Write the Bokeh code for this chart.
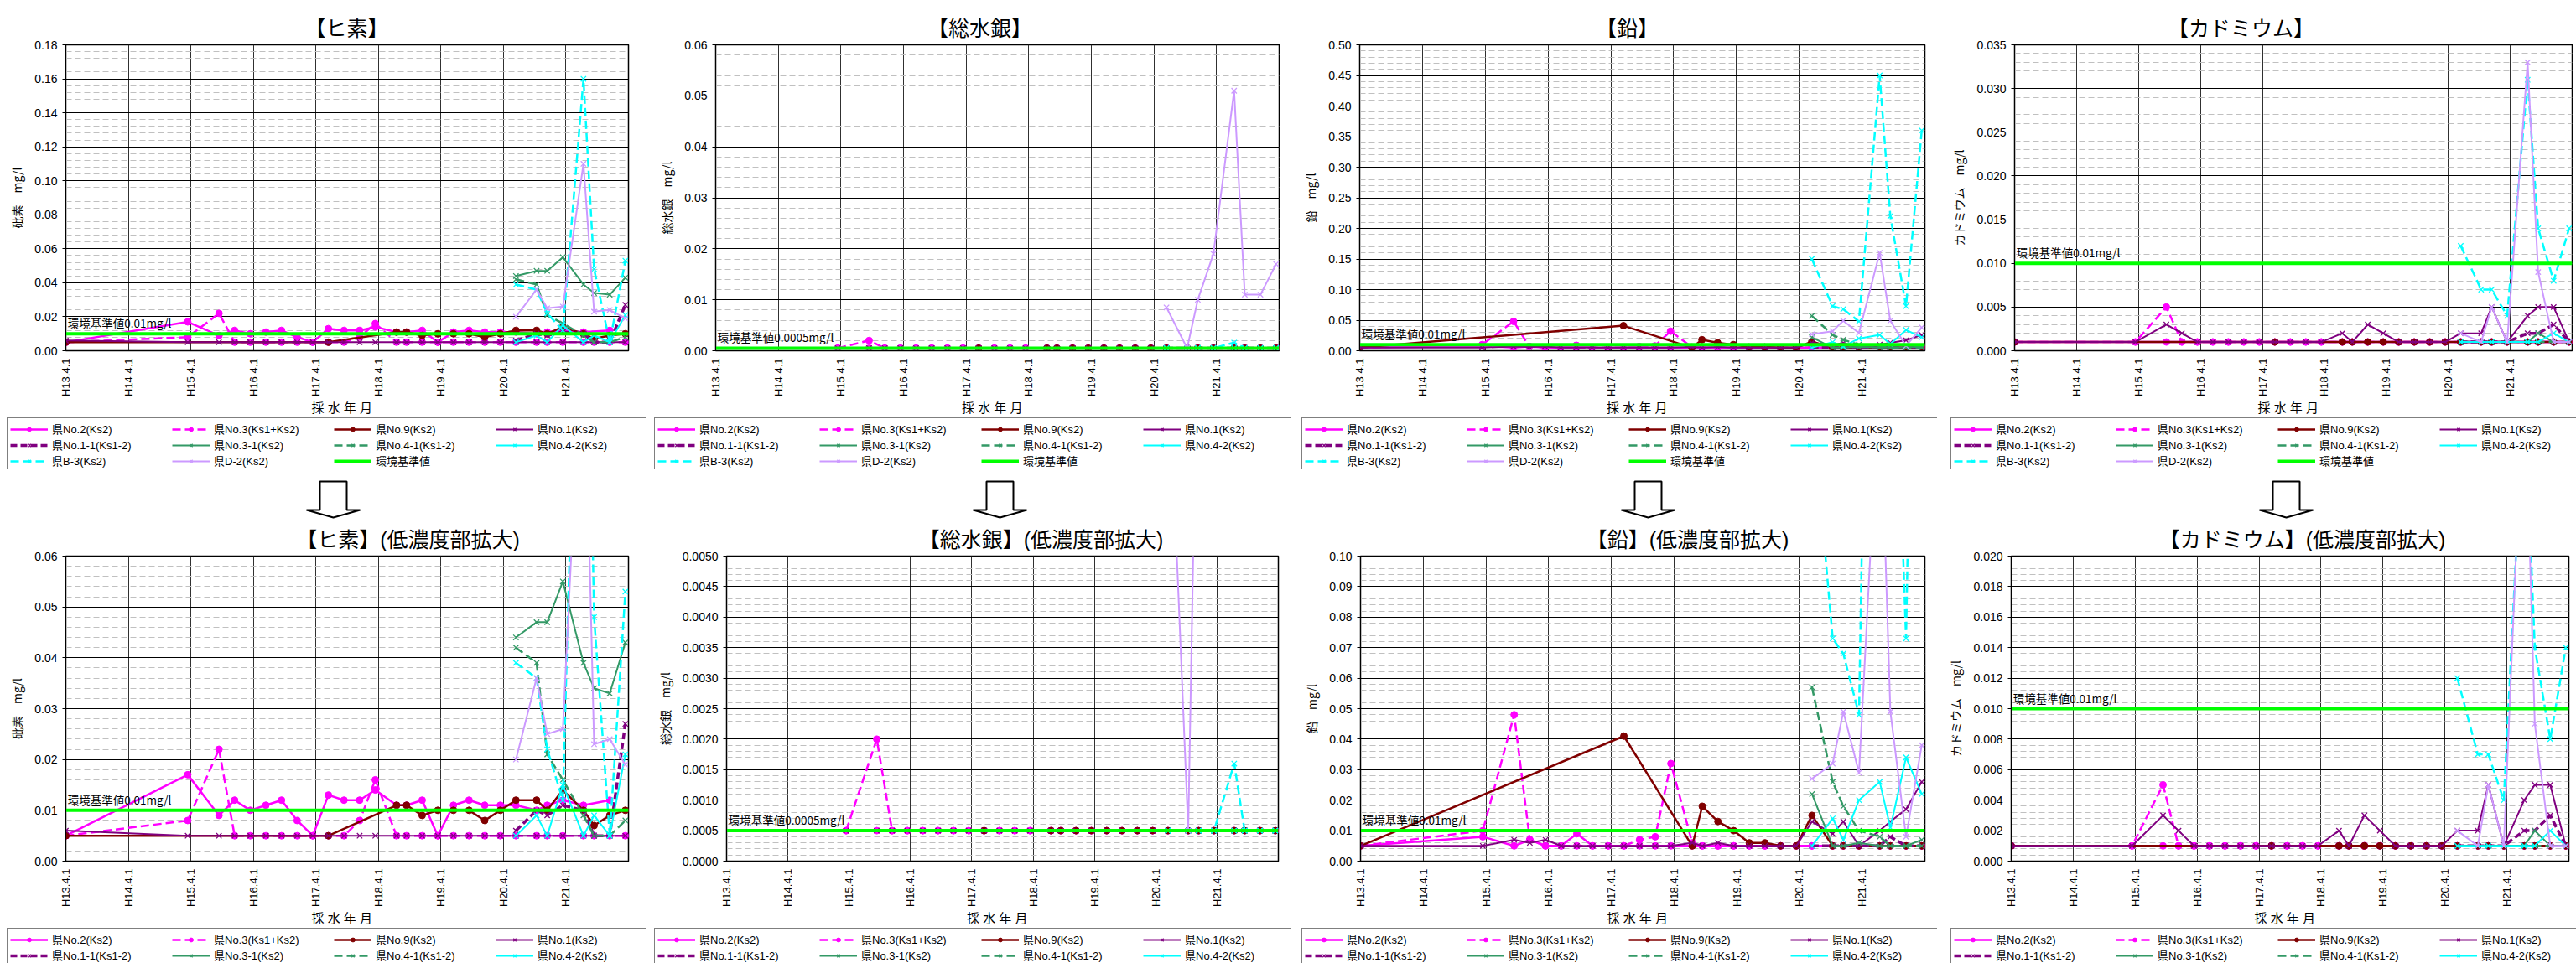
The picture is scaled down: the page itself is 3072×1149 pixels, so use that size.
import math
from bokeh.plotting import figure
from bokeh.models import (Range1d, SingleIntervalTicker, FixedTicker, PrintfTickFormatter,
                          Legend, LegendItem, Label)
from bokeh.layouts import row, column
from bokeh.embed import file_html
from bokeh.resources import INLINE

N = None

# ---------------- data ----------------
# sampling dates as fractional Heisei fiscal year (13.0 = H13.4.1)
T_ALL = [13.00, 14.95, 15.45, 15.70, 15.95, 16.20, 16.45, 16.70, 16.95, 17.20,
         17.45, 17.70, 17.95, 18.29, 18.45, 18.70, 18.95, 19.20, 19.45, 19.70,
         19.95, 20.20, 20.53, 20.70, 20.95, 21.28, 21.45, 21.70, 21.95]
T_NEW = [20.20, 20.53, 20.70, 20.95, 21.28, 21.45, 21.70, 21.95]
X_TICKS = [13, 14, 15, 16, 17, 18, 19, 20, 21]
X_TICK_LABELS = ["H13.4.1", "H14.4.1", "H15.4.1", "H16.4.1", "H17.4.1",
                 "H18.4.1", "H19.4.1", "H20.4.1", "H21.4.1"]
X_START, X_END = 13.0, 22.0
STD_X = [13.0, 22.0]

SERIES_NAMES = ["県No.2(Ks2)", "県No.3(Ks1+Ks2)", "県No.9(Ks2)", "県No.1(Ks2)",
                "県No.1-1(Ks1-2)", "県No.3-1(Ks2)", "県No.4-1(Ks1-2)", "県No.4-2(Ks2)",
                "県B-3(Ks2)", "県D-2(Ks2)"]
STD_NAME = "環境基準値"

# --- arsenic
AS_NO2 = [0.005, 0.017, 0.009, 0.012, 0.010, 0.011, 0.012, 0.008, 0.005, 0.013,
          0.012, 0.012, 0.014, 0.011, 0.011, 0.012, 0.005, 0.011, 0.012, 0.011,
          0.011, 0.011, 0.010, 0.011, 0.012, 0.011, N, 0.012, N]
AS_NO3 = [0.005, 0.008, 0.022, 0.005, 0.005, 0.005, 0.005, 0.005, 0.005, 0.005,
          0.005, 0.008, 0.016, 0.005, 0.005, 0.005, 0.005, 0.005, 0.005, 0.005,
          0.005, 0.005, 0.005, 0.005, 0.005, 0.005, 0.005, 0.005, 0.005]
AS_NO9 = [0.005, N, N, N, N, N, N, N, N, 0.005,
          N, N, N, 0.011, 0.011, 0.009, 0.010, 0.010, 0.010, 0.008,
          0.010, 0.012, 0.012, 0.010, 0.014, 0.010, 0.007, 0.009, 0.010]
AS_NO1 = [0.006, 0.005, 0.005, 0.005, 0.005, 0.005, 0.005, 0.005, 0.005, 0.005,
          0.005, 0.005, 0.005, 0.005, 0.005, 0.005, 0.005, 0.005, 0.005, 0.005,
          0.005, 0.005, 0.005, 0.005, 0.005, 0.005, 0.005, 0.005, 0.005]
AS_NO1_1 = [0.006, 0.010, 0.009, 0.011, 0.010, 0.005, 0.005, 0.027]
AS_NO3_1 = [0.044, 0.047, 0.047, 0.055, 0.039, 0.034, 0.033, 0.043]
AS_NO4_1 = [0.042, 0.039, 0.021, 0.016, 0.009, 0.005, 0.005, 0.008]
AS_NO4_2 = [0.005, 0.009, 0.005, 0.015, 0.005, 0.009, 0.005, 0.021]
AS_B3 = [0.039, 0.036, 0.022, 0.012, 0.160, 0.048, 0.005, 0.053]
AS_D2 = [0.020, 0.036, 0.025, 0.026, 0.110, 0.023, 0.024, 0.019]
AS_STD = 0.01

# --- total mercury
HG_NO2 = [N, 0.0005, 0.0005, 0.0005, 0.0005, 0.0005, 0.0005, 0.0005, 0.0005, 0.0005,
          0.0005, 0.0005, 0.0005, 0.0005, 0.0005, 0.0005, 0.0005, 0.0005, 0.0005, 0.0005,
          0.0005, 0.0005, 0.0005, 0.0005, 0.0005, 0.0005, 0.0005, 0.0005, 0.0005]
HG_NO3 = [N, 0.0005, 0.0020, 0.0005, 0.0005, 0.0005, 0.0005, 0.0005, 0.0005, 0.0005,
          0.0005, 0.0005, 0.0005, 0.0005, 0.0005, 0.0005, 0.0005, 0.0005, 0.0005, 0.0005,
          0.0005, 0.0005, 0.0005, 0.0005, 0.0005, 0.0005, 0.0005, 0.0005, 0.0005]
HG_NO9 = [N, N, N, N, N, N, N, N, N, 0.0005,
          N, N, N, 0.0005, 0.0005, 0.0005, 0.0005, 0.0005, 0.0005, 0.0005,
          0.0005, 0.0005, 0.0005, 0.0005, 0.0005, 0.0005, 0.0005, 0.0005, 0.0005]
HG_NO1 = [N, 0.0005, 0.0005, 0.0005, 0.0005, 0.0005, 0.0005, 0.0005, 0.0005, 0.0005,
          0.0005, 0.0005, 0.0005, 0.0005, 0.0005, 0.0005, 0.0005, 0.0005, 0.0005, 0.0005,
          0.0005, 0.0005, 0.0005, 0.0005, 0.0005, 0.0005, 0.0005, 0.0005, 0.0005]
HG_NO1_1 = [0.0005, 0.0005, 0.0005, 0.0005, 0.0005, 0.0005, 0.0005, 0.0005]
HG_NO3_1 = [0.0005, 0.0005, 0.0005, 0.0005, 0.0005, 0.0005, 0.0005, 0.0005]
HG_NO4_1 = [0.0005, 0.0005, 0.0005, 0.0005, 0.0005, 0.0005, 0.0005, 0.0005]
HG_NO4_2 = [0.0005, 0.0005, 0.0005, 0.0005, 0.0005, 0.0005, 0.0005, 0.0005]
HG_B3 = [0.0005, 0.0005, 0.0005, 0.0005, 0.0016, 0.0005, 0.0005, 0.0005]
HG_D2 = [0.0085, 0.0005, 0.0100, 0.0190, 0.0510, 0.0110, 0.0110, 0.0170]
HG_STD = 0.0005

# --- lead
PB_NO2 = [0.005, 0.008, 0.005, 0.007, 0.005, 0.005, 0.009, 0.005, 0.005, 0.005,
          0.005, 0.005, 0.005, 0.005, 0.005, 0.005, 0.005, 0.005, 0.005, 0.005,
          0.005, 0.005, 0.005, 0.005, 0.005, 0.005, 0.005, 0.005, 0.005]
PB_NO3 = [0.005, 0.010, 0.048, 0.007, 0.005, 0.005, 0.005, 0.005, 0.005, 0.005,
          0.007, 0.008, 0.032, 0.006, 0.005, 0.005, 0.005, 0.005, 0.005, 0.005,
          0.005, 0.005, 0.005, 0.005, 0.005, 0.005, 0.005, 0.005, 0.005]
PB_NO9 = [0.005, N, N, N, N, N, N, N, N, 0.041,
          N, N, N, 0.005, 0.018, 0.013, 0.010, 0.006, 0.006, 0.005,
          0.005, 0.015, 0.005, 0.005, 0.005, 0.005, 0.005, 0.005, 0.005]
PB_NO1 = [0.005, 0.005, 0.007, 0.006, 0.007, 0.005, 0.005, 0.005, 0.005, 0.005,
          0.005, 0.005, 0.005, 0.006, 0.005, 0.006, 0.005, 0.005, 0.005, 0.005,
          0.005, 0.013, 0.009, 0.013, 0.005, 0.010, 0.013, 0.017, 0.026]
PB_NO1_1 = [0.005, 0.005, 0.005, 0.005, 0.005, 0.008, 0.005, 0.005]
PB_NO3_1 = [0.022, 0.005, 0.005, 0.006, 0.005, 0.005, 0.005, 0.007]
PB_NO4_1 = [0.057, 0.026, 0.018, 0.010, 0.008, 0.005, 0.005, 0.005]
PB_NO4_2 = [0.005, 0.014, 0.007, 0.020, 0.026, 0.011, 0.034, 0.022]
PB_B3 = [0.150, 0.073, 0.068, 0.048, 0.450, 0.220, 0.073, 0.360]
PB_D2 = [0.027, 0.032, 0.049, 0.029, 0.160, 0.049, 0.008, 0.038]
PB_STD = 0.01

# --- cadmium
CD_NO2 = [0.001, 0.001, 0.001, 0.001, 0.001, 0.001, 0.001, 0.001, 0.001, 0.001,
          0.001, 0.001, 0.001, 0.001, 0.001, 0.001, 0.001, 0.001, 0.001, 0.001,
          0.001, 0.001, 0.001, 0.001, 0.001, 0.001, 0.001, 0.001, 0.001]
CD_NO3 = [0.001, 0.001, 0.005, 0.001, 0.001, 0.001, 0.001, 0.001, 0.001, 0.001,
          0.001, 0.001, 0.001, 0.001, 0.001, 0.001, 0.001, 0.001, 0.001, 0.001,
          0.001, 0.001, 0.001, 0.001, 0.001, 0.001, 0.001, 0.001, 0.001]
CD_NO9 = [0.001, N, N, N, N, N, N, N, N, 0.001,
          N, N, N, 0.001, 0.001, 0.001, 0.001, 0.001, 0.001, 0.001,
          0.001, 0.001, 0.001, 0.001, 0.001, 0.001, 0.001, 0.001, 0.001]
CD_NO1 = [0.001, 0.001, 0.003, 0.002, 0.001, 0.001, 0.001, 0.001, 0.001, 0.001,
          0.001, 0.001, 0.001, 0.002, 0.001, 0.003, 0.002, 0.001, 0.001, 0.001,
          0.001, 0.002, 0.002, 0.005, 0.001, 0.004, 0.005, 0.005, 0.001]
CD_NO1_1 = [0.001, 0.001, 0.001, 0.001, 0.002, 0.002, 0.003, 0.001]
CD_NO3_1 = [0.001, 0.001, 0.001, 0.001, 0.001, 0.002, 0.001, 0.001]
CD_NO4_1 = [0.001, 0.001, 0.001, 0.001, 0.001, 0.001, 0.001, 0.001]
CD_NO4_2 = [0.001, 0.001, 0.001, 0.001, 0.001, 0.001, 0.002, 0.001]
CD_B3 = [0.012, 0.007, 0.007, 0.004, 0.031, 0.014, 0.008, 0.014]
CD_D2 = [0.002, 0.001, 0.005, 0.001, 0.033, 0.009, 0.001, 0.001]
CD_STD = 0.01

ELEMENTS = [
    dict(title="【ヒ素】", ylabel="砒素　mg/l", std=AS_STD, std_text="環境基準値0.01mg/l",
         ranges=[(0.18, 0.02, "%.2f"), (0.06, 0.01, "%.2f")],
         old=[AS_NO2, AS_NO3, AS_NO9, AS_NO1],
         new=[AS_NO1_1, AS_NO3_1, AS_NO4_1, AS_NO4_2, AS_B3, AS_D2]),
    dict(title="【総水銀】", ylabel="総水銀　mg/l", std=HG_STD, std_text="環境基準値0.0005mg/l",
         ranges=[(0.06, 0.01, "%.2f"), (0.005, 0.0005, "%.4f")],
         old=[HG_NO2, HG_NO3, HG_NO9, HG_NO1],
         new=[HG_NO1_1, HG_NO3_1, HG_NO4_1, HG_NO4_2, HG_B3, HG_D2]),
    dict(title="【鉛】", ylabel="鉛　mg/l", std=PB_STD, std_text="環境基準値0.01mg/l",
         ranges=[(0.50, 0.05, "%.2f"), (0.10, 0.01, "%.2f")],
         old=[PB_NO2, PB_NO3, PB_NO9, PB_NO1],
         new=[PB_NO1_1, PB_NO3_1, PB_NO4_1, PB_NO4_2, PB_B3, PB_D2]),
    dict(title="【カドミウム】", ylabel="カドミウム　mg/l", std=CD_STD, std_text="環境基準値0.01mg/l",
         ranges=[(0.035, 0.005, "%.3f"), (0.020, 0.002, "%.3f")],
         old=[CD_NO2, CD_NO3, CD_NO9, CD_NO1],
         new=[CD_NO1_1, CD_NO3_1, CD_NO4_1, CD_NO4_2, CD_B3, CD_D2]),
]
SUBTITLE = "(低濃度部拡大)"

# ---------------- styles / geometry ----------------
STYLES = [  # color, dash, width, marker
    ("#FF00FF", "solid", 2.5, "circle"),
    ("#FF00FF", "10 5", 2.5, "circle"),
    ("#800000", "solid", 2.5, "circle"),
    ("#800080", "solid", 2.0, "x"),
    ("#800080", "8 4", 3.5, "x"),
    ("#339966", "solid", 2.0, "x"),
    ("#339966", "10 5", 2.5, "x"),
    ("#00FFFF", "solid", 2.0, "x"),
    ("#00FFFF", "10 5", 2.5, "x"),
    ("#CC99FF", "solid", 2.0, "x"),
]
STD_COLOR = "#00FF00"

FONT_CJK = "Noto Sans CJK JP"
FONT_LAT = "Liberation Sans"
FONT_MIX = "Liberation Sans, Noto Sans CJK JP"
TITLE_PX = 25

# the Bokeh page template has no body margin, so page px == reference px
COLS = [(0, 770), (770, 1540), (1540, 2310), (2310, 3072)]
# page rows: top plots, top legends, arrows, bottom plots, bottom legends
ROW_TOP, ROW_TOPLEG, ROW_ARROW, ROW_BOT, ROW_BOTLEG = (0, 498), (498, 560), (560, 620), (620, 1107), (1107, 1149)
FRAMES = [
    [(78, 749, 53, 422), (853, 1525, 46, 423), (1621, 2295, 52, 421), (2402, 3067, 52, 421)],
    [(78, 749, 663, 1032), (866, 1524, 656, 1034), (1622, 2295, 663, 1032), (2398, 3063, 663, 1032)],
]
TITLE_CX = [[413, 1168, 1940, 2672], [486, 1241, 2012, 2745]]
LEGEND_LEFT = [8, 780, 1552, 2326]
ARROW_CX = [397, 1192, 1965, 2726]
# block arrow outline (offsets in px from arrow centre / arrow-row top)
ARROW_DX = [-16, 16, 16, 32, 0, -32, -16]
ARROW_DY = [14, 14, 48, 48, 57, 48, 48]


def text_width(s, px):
    w = 0.0
    for ch in s:
        w += 0.33 * px if ch in "()" else px
    return w


def add_series(p, el):
    """Draw all series and return their legend items."""
    items = []
    series = [(T_ALL, ys) for ys in el["old"]] + [(T_NEW, ys) for ys in el["new"]]
    for (ts, ys), name, (color, dash, lw, marker) in zip(series, SERIES_NAMES, STYLES):
        assert len(ts) == len(ys), name
        xs = [t for t, y in zip(ts, ys) if y is not None]
        yv = [y for y in ys if y is not None]
        rl = p.line(xs, yv, line_color=color, line_width=lw, line_dash=dash)
        if marker == "circle":
            rm = p.scatter(xs, yv, marker="circle", size=8, fill_color=color, line_color=color)
        else:
            rm = p.scatter(xs, yv, marker="x", size=9, line_color=color, line_width=1.3)
        items.append(LegendItem(label=name, renderers=[rl, rm]))
    rs = p.line(STD_X, [el["std"], el["std"]], line_color=STD_COLOR, line_width=4)
    items.append(LegendItem(label=STD_NAME, renderers=[rs]))
    return items


def build(ei, ri):
    el = ELEMENTS[ei]
    cl, cr = COLS[ei]
    ct, cb = ROW_TOP if ri == 0 else ROW_BOT
    fl, fr, ft, fb = FRAMES[ri][ei]
    ymax, step, fmt = el["ranges"][ri]
    p = figure(width=cr - cl, height=cb - ct,
               x_range=Range1d(X_START, X_END), y_range=Range1d(0, ymax),
               output_backend="svg", toolbar_location=None, tools="",
               min_border_left=fl - cl, min_border_right=cr - fr,
               min_border_top=ft - ct, min_border_bottom=cb - fb)
    p.background_fill_color = "white"
    p.border_fill_color = "white"
    p.outline_line_color = "black"
    p.outline_line_width = 1.5

    title = el["title"] if ri == 0 else el["title"] + SUBTITLE
    p.title.text = title
    p.title.align = "left"
    p.title.offset = TITLE_CX[ri][ei] - text_width(title, TITLE_PX) / 2 - fl
    p.title.text_font = FONT_MIX
    p.title.text_font_size = f"{TITLE_PX}px"
    p.title.text_font_style = "normal"
    p.title.text_color = "black"
    p.title.standoff = 12

    # y axis
    p.yaxis.ticker = SingleIntervalTicker(interval=step, num_minor_ticks=5)
    p.yaxis.formatter = PrintfTickFormatter(format=fmt)
    p.yaxis.major_label_text_font = FONT_LAT
    p.yaxis.major_label_text_font_size = "14px"
    p.yaxis.major_label_text_color = "black"
    p.yaxis.major_tick_out = 4
    p.yaxis.major_tick_in = 0
    p.yaxis.minor_tick_line_color = None
    p.yaxis.major_label_standoff = 6
    p.yaxis.axis_label = el["ylabel"]
    p.yaxis.axis_label_text_font = FONT_CJK
    p.yaxis.axis_label_text_font_size = "14px"
    p.yaxis.axis_label_text_font_style = "normal"
    p.yaxis.axis_label_text_color = "black"
    p.yaxis.axis_label_standoff = 8
    p.yaxis.axis_line_color = "black"
    p.ygrid.grid_line_color = "black"
    p.ygrid.grid_line_width = 1
    p.ygrid.minor_grid_line_color = "#c0c0c0"
    p.ygrid.minor_grid_line_dash = "7 4"
    p.ygrid.minor_grid_line_width = 1

    # x axis
    p.xaxis.ticker = FixedTicker(ticks=X_TICKS)
    p.xaxis.major_label_overrides = {t: lab for t, lab in zip(X_TICKS, X_TICK_LABELS)}
    p.xaxis.major_label_orientation = math.pi / 2
    p.xaxis.major_label_text_font = FONT_LAT
    p.xaxis.major_label_text_font_size = "13px"
    p.xaxis.major_label_text_color = "black"
    p.xaxis.major_tick_out = 0
    p.xaxis.major_tick_in = 0
    p.xaxis.minor_tick_line_color = None
    p.xaxis.major_label_standoff = 9
    p.xaxis.axis_label = "採  水  年  月"
    p.xaxis.axis_label_text_font = FONT_MIX
    p.xaxis.axis_label_text_font_size = "15px"
    p.xaxis.axis_label_text_font_style = "normal"
    p.xaxis.axis_label_text_color = "black"
    p.xaxis.axis_label_standoff = 2
    p.xaxis.axis_line_color = "black"
    p.xgrid.ticker = FixedTicker(ticks=X_TICKS)
    p.xgrid.grid_line_color = "#303030"
    p.xgrid.grid_line_width = 1

    add_series(p, el)

    p.add_layout(Label(x=X_START + 0.03, y=el["std"], text=el["std_text"], y_offset=3,
                       text_font=FONT_CJK, text_font_size="13.5px", text_color="black",
                       text_baseline="bottom", text_align="left"))
    return p


def build_legend(ei, rowspan):
    """Legend strip under a chart. The same series are drawn, but the strip's
    ranges lie outside the data, so only the legend entries are visible."""
    el = ELEMENTS[ei]
    cl, cr = COLS[ei]
    ct, cb = rowspan
    p = figure(width=cr - cl, height=cb - ct, x_range=Range1d(0, 1), y_range=Range1d(-2, -1),
               output_backend="svg", toolbar_location=None, tools="",
               x_axis_type=None, y_axis_type=None,
               min_border_left=LEGEND_LEFT[ei] - cl, min_border_right=0,
               min_border_top=0, min_border_bottom=0)
    p.grid.visible = False
    p.outline_line_color = None
    p.background_fill_color = "white"
    p.border_fill_color = "white"
    items = add_series(p, el)
    legend = Legend(items=items, location="top_left",
                    orientation="horizontal", ncols=4,
                    glyph_width=45, glyph_height=12, label_standoff=5, label_width=143,
                    label_height=12, spacing=0, padding=3, margin=0,
                    label_text_font=FONT_MIX, label_text_font_size="13px",
                    label_text_color="black",
                    border_line_color="black", border_line_width=1,
                    background_fill_color="white", background_fill_alpha=1.0)
    p.add_layout(legend)
    return p


def build_arrow(ei):
    cl, cr = COLS[ei]
    ct, cb = ROW_ARROW
    w, h = cr - cl, cb - ct
    p = figure(width=w, height=h, x_range=Range1d(0, w), y_range=Range1d(h, 0),
               output_backend="svg", toolbar_location=None, tools="",
               x_axis_type=None, y_axis_type=None, min_border=0)
    p.grid.visible = False
    p.outline_line_color = None
    p.background_fill_color = "white"
    p.border_fill_color = "white"
    cx = ARROW_CX[ei] - cl
    p.patch([cx + dx for dx in ARROW_DX], ARROW_DY,
            fill_color="white", line_color="black", line_width=2)
    return p


top = [build(i, 0) for i in range(4)]
top_leg = [build_legend(i, ROW_TOPLEG) for i in range(4)]
arrows = [build_arrow(i) for i in range(4)]
bottom = [build(i, 1) for i in range(4)]
bot_leg = [build_legend(i, ROW_BOTLEG) for i in range(4)]
layout = column(row(*top), row(*top_leg), row(*arrows), row(*bottom), row(*bot_leg))
html = file_html(layout, INLINE, title="地下水質の推移")
open("out.html", "w").write(html)
